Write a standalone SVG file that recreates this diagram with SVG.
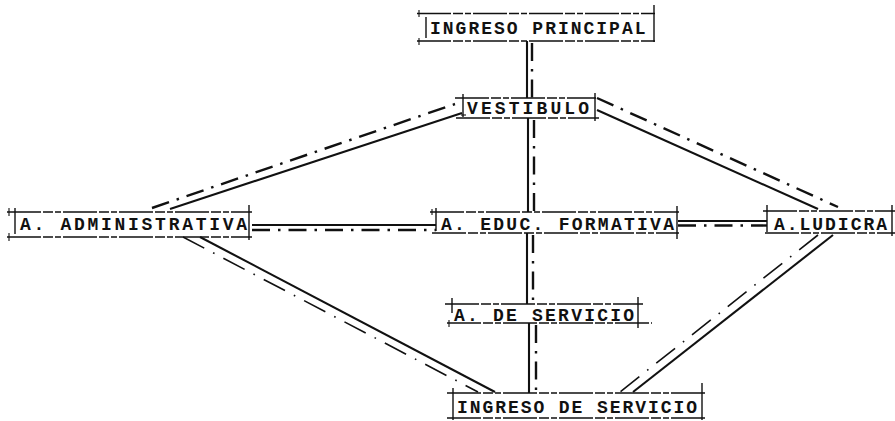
<svg xmlns="http://www.w3.org/2000/svg" width="895" height="421" viewBox="0 0 895 421">
<style>
.t{font-family:"Liberation Mono","Courier New",monospace;font-size:18px;font-weight:bold;fill:#111;}
.bl{stroke:#111;stroke-width:1.5;stroke-dasharray:34 2 10 2 6 2;fill:none;}
.bv{stroke:#111;stroke-width:1.4;fill:none;}
.tk{stroke:#111;stroke-width:1.1;fill:none;}
.so{stroke:#111;stroke-width:2.1;fill:none;}
.dd{stroke:#111;stroke-width:2.4;stroke-dasharray:18 8 2.5 8;fill:none;}
.ds{stroke:#111;stroke-width:1.6;stroke-dasharray:24 10 1.6 10;fill:none;}
</style>
<rect width="895" height="421" fill="#fff"/>
<g id="connectors">
  <line class="so" x1="527" y1="41" x2="527" y2="98"/>
  <line class="dd" x1="532" y1="43" x2="532" y2="98"/>
  <line class="so" x1="528" y1="118" x2="528" y2="212"/>
  <line class="dd" x1="534" y1="120" x2="534" y2="212"/>
  <line class="so" x1="527" y1="233" x2="527" y2="304"/>
  <line class="dd" x1="533" y1="235" x2="533" y2="304"/>
  <line class="so" x1="529" y1="323" x2="529" y2="393"/>
  <line class="dd" x1="536" y1="325" x2="536" y2="393"/>
  <line class="dd" x1="152" y1="208" x2="455" y2="104"/>
  <line class="so" x1="170" y1="209" x2="462" y2="113"/>
  <line class="dd" x1="597" y1="98" x2="838" y2="207"/>
  <line class="so" x1="597" y1="110" x2="818" y2="209"/>
  <line class="so" x1="252" y1="225" x2="436" y2="225"/>
  <line class="dd" x1="252" y1="230" x2="436" y2="230"/>
  <line class="so" x1="678" y1="221" x2="767" y2="221"/>
  <line class="dd" x1="678" y1="225.5" x2="767" y2="225.5"/>
  <line class="so" x1="200" y1="237" x2="495" y2="392"/>
  <line class="ds" x1="183" y1="237" x2="478" y2="392"/>
  <line class="so" x1="833" y1="235" x2="633" y2="392"/>
  <line class="ds" x1="818" y1="235" x2="620" y2="392"/>
</g>
<g id="ingreso-principal">
  <line class="bl" x1="417" y1="13.5" x2="655" y2="13.5"/>
  <line class="bl" x1="417" y1="41" x2="655" y2="41"/>
  <line class="bv" x1="426" y1="17" x2="426" y2="38"/>
  <line class="bv" x1="654" y1="5" x2="654" y2="42"/>
  <line class="tk" x1="419" y1="10" x2="419" y2="17"/>
  <line class="tk" x1="419" y1="38" x2="419" y2="45"/>
  <text class="t" x="430" y="33.5" textLength="215.5" lengthAdjust="spacing">INGRESO PRINCIPAL</text>
</g>
<g id="vestibulo">
  <line class="bl" x1="455" y1="98" x2="596" y2="98"/>
  <line class="bl" x1="456" y1="118" x2="599" y2="118"/>
  <line class="bv" x1="463" y1="94" x2="463" y2="117"/>
  <line class="bv" x1="595" y1="93" x2="595" y2="121"/>
  <line class="tk" x1="461" y1="115" x2="466" y2="115"/>
  <text class="t" x="467" y="113.5" textLength="122" lengthAdjust="spacing">VESTIBULO</text>
</g>
<g id="area-administrativa">
  <line class="bl" x1="7" y1="212" x2="252" y2="212"/>
  <line class="bl" x1="7" y1="237" x2="252" y2="237"/>
  <line class="bv" x1="15" y1="208" x2="15" y2="234"/>
  <line class="bv" x1="249" y1="205" x2="249" y2="240"/>
  <line class="tk" x1="9" y1="208" x2="9" y2="216"/>
  <line class="tk" x1="9" y1="233" x2="9" y2="241"/>
  <text class="t" x="20" y="229.5" textLength="227" lengthAdjust="spacing">A. ADMINISTRATIVA</text>
</g>
<g id="area-educ-formativa">
  <line class="bl" x1="430" y1="212" x2="679" y2="212"/>
  <line class="bl" x1="432" y1="233" x2="679" y2="233"/>
  <line class="bv" x1="436" y1="208" x2="436" y2="231"/>
  <line class="bv" x1="677" y1="206" x2="677" y2="239"/>
  <line class="tk" x1="432" y1="209" x2="432" y2="215"/>
  <text class="t" x="441" y="229.5" textLength="233" lengthAdjust="spacing">A. EDUC. FORMATIVA</text>
</g>
<g id="area-ludicra">
  <line class="bl" x1="763" y1="211" x2="895" y2="211"/>
  <line class="bl" x1="765" y1="233" x2="895" y2="233"/>
  <line class="bv" x1="767" y1="205" x2="767" y2="232"/>
  <line class="bv" x1="892" y1="205" x2="892" y2="236"/>
  <text class="t" x="774" y="229.5" textLength="113" lengthAdjust="spacing">A.LUDICRA</text>
</g>
<g id="area-servicio">
  <line class="bl" x1="445" y1="304" x2="643" y2="304"/>
  <line class="bl" x1="447" y1="323" x2="652" y2="323"/>
  <line class="bv" x1="452" y1="298" x2="452" y2="313"/>
  <line class="bv" x1="638" y1="297" x2="638" y2="328"/>
  <line class="tk" x1="449" y1="320" x2="449" y2="327"/>
  <text class="t" x="454" y="320.5" textLength="180" lengthAdjust="spacing">A. DE SERVICIO</text>
</g>
<g id="ingreso-servicio">
  <line class="bl" x1="447" y1="393" x2="706" y2="393"/>
  <line class="bl" x1="447" y1="418" x2="706" y2="418"/>
  <line class="bv" x1="453" y1="388" x2="453" y2="420"/>
  <line class="bv" x1="702" y1="383" x2="702" y2="420"/>
  <text class="t" x="457" y="412.5" textLength="240" lengthAdjust="spacing">INGRESO DE SERVICIO</text>
</g>
</svg>
